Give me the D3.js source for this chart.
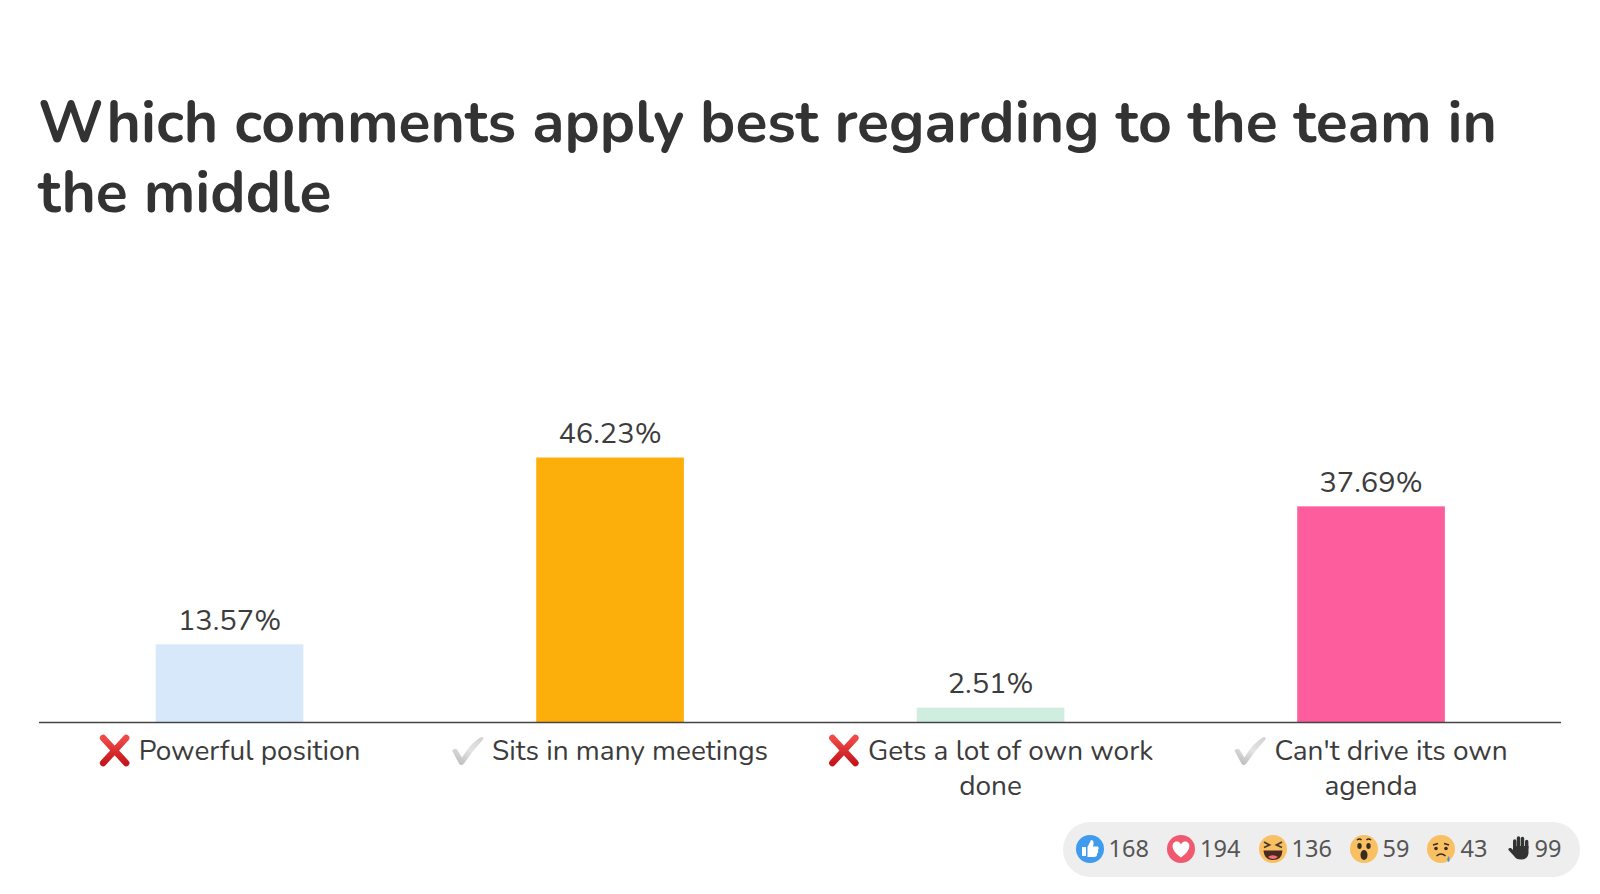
<!DOCTYPE html>
<html><head><meta charset="utf-8">
<script src="https://cdn.jsdelivr.net/npm/d3@7"></script>
<style>html,body{margin:0;padding:0;background:#fff}svg{display:block}</style>
</head><body><svg id="c" width="1600" height="894"></svg>
<script>
const titleLines = ["Which comments apply best regarding to the team in", "the middle"];
const categories = ["Powerful position", "Sits in many meetings", "Gets a lot of own work done", "Can't drive its own agenda"];
const categoryLines = [["Powerful position"], ["Sits in many meetings"], ["Gets a lot of own work", "done"], ["Can't drive its own", "agenda"]];
const marks = ["cross", "check", "cross", "check"];
const values = [13.57, 46.23, 2.51, 37.69];
const valueLabels = ["13.57%", "46.23%", "2.51%", "37.69%"];
const barColors = ["#d6e8f9", "#fcaf0b", "#d0eedf", "#fd5c9d"];
const reactionKinds = ["like", "love", "haha", "wow", "sad", "hand"];
const reactionCounts = [168, 194, 136, 59, 43, 99];

const FONT = "Nunito, Lato, 'Noto Sans', sans-serif";
const svg = d3.select("#c");
const x = d3.scaleBand().domain(categories).range([39.3, 1561.3]).paddingInner(0.612).paddingOuter(0.306);
const y = d3.scaleLinear().domain([0, 46.23]).range([722, 457.5]);

const defs = svg.append("defs");
const rg = defs.append("linearGradient").attr("id","redG").attr("x1",0).attr("y1",0).attr("x2",0).attr("y2",1);
rg.append("stop").attr("offset",0).attr("stop-color","#f04a48");
rg.append("stop").attr("offset",1).attr("stop-color","#c5161c");
const gg = defs.append("linearGradient").attr("id","greyG").attr("x1",0.2).attr("y1",1).attr("x2",0.8).attr("y2",0);
gg.append("stop").attr("offset",0).attr("stop-color","#bcbcbc");
gg.append("stop").attr("offset",0.55).attr("stop-color","#e4e4e4");
gg.append("stop").attr("offset",1).attr("stop-color","#d4d4d4");

svg.append("g").selectAll("text").data(titleLines).join("text")
  .attr("x", 38).attr("y", (d,i)=>142+i*69.5)
  .attr("font-family", FONT).attr("font-weight", 700).attr("font-size", 58.9)
  .attr("fill", "#333333").text(d=>d);

svg.append("g").selectAll("rect").data(values).join("rect")
  .attr("x",(d,i)=>x(categories[i])).attr("width",x.bandwidth())
  .attr("y",d=>y(d)).attr("height",d=>y(0)-y(d))
  .attr("fill",(d,i)=>barColors[i]);

svg.append("g").selectAll("text").data(values).join("text")
  .attr("x",(d,i)=>x(categories[i])+x.bandwidth()/2)
  .attr("y",d=>y(d)-14.5)
  .attr("text-anchor","middle").attr("font-family",FONT).attr("font-size",29).attr("fill","#3c3c3c")
  .text((d,i)=>valueLabels[i]);

svg.append("line").attr("x1",39).attr("x2",1561).attr("y1",722.5).attr("y2",722.5).attr("stroke","#444").attr("stroke-width",1.3);

function drawMark(g, kind){
  if(kind==="cross"){
    g.append("path").attr("d","M-11.5,-12.5 L11.5,12.5 M11.5,-12.5 L-11.5,12.5").attr("stroke","url(#redG)")
      .attr("stroke-width",6.5).attr("stroke-linecap","round").attr("fill","none");
  } else {
    g.append("path").attr("d","M-17,0 Q-14,-3 -12,-1 L-7,7 Q2,-8 12,-13.5 Q15,-13.5 14,-11 Q3,1 -5,13 Q-8,16 -10,13 Z").attr("fill","url(#greyG)");
  }
}
const labelG = svg.append("g").selectAll("g").data(categories).join("g");
labelG.each(function(d,i){
  const cx = x(d)+x.bandwidth()/2, g = d3.select(this);
  const lines = categoryLines[i];
  const iconW = 40;
  const t1 = g.append("text").attr("x",0).attr("y",760).attr("font-family",FONT).attr("font-size",28).attr("fill","#3c3c3c").text(lines[0]);
  const w = t1.node().getComputedTextLength();
  const start = cx-(w+iconW)/2;
  t1.attr("x",start+iconW);
  drawMark(g.append("g").attr("transform",`translate(${start+ (marks[i]==="cross"?16:17)},750.5)`), marks[i]);
  if(lines[1]) g.append("text").attr("x",cx).attr("y",795).attr("text-anchor","middle").attr("font-family",FONT).attr("font-size",28).attr("fill","#3c3c3c").text(lines[1]);
});

svg.append("rect").attr("x",1063).attr("y",822).attr("width",517).attr("height",55).attr("rx",27.5).attr("fill","#eeeeee");
const iconX = [1090,1181,1273,1364,1441,1519], textX=[1108.5,1200,1291.5,1382.5,1460.5,1534.5];
const faceY = 849;
function drawReaction(g,k){
  if(k==="like"){
    g.append("circle").attr("r",14).attr("fill","#3f9bee");
    g.append("path").attr("fill","#fff").attr("d","M-8,-2 h4 v9 h-4 Z M-2.5,-2 L1,-9 Q4,-9 3.5,-5 L3,-2.5 H8 Q9.5,-1 8,1 Q9,3 7,5 Q7.5,7.5 4,8 H-2.5 Z");
  } else if(k==="love"){
    g.append("circle").attr("r",14).attr("fill","#f0596f");
    g.append("path").attr("fill","#fff").attr("d","M0,8.5 C-13,-1 -8,-8 -4,-7.5 C-2,-7.5 -0.5,-6 0,-4.5 C0.5,-6 2,-7.5 4,-7.5 C8,-8 13,-1 0,8.5 Z");
  } else {
    g.append("circle").attr("r",14).attr("fill","#f8c063");
    if(k==="haha"){
      g.append("path").attr("fill","none").attr("stroke","#4a3a2a").attr("stroke-width",1.8).attr("d","M-9,-7 L-3.5,-4 L-9,-1.5 M9,-7 L3.5,-4 L9,-1.5");
      g.append("path").attr("fill","#4a2a20").attr("d","M-9.5,1.5 H9.5 Q9,11 0,11 Q-9,11 -9.5,1.5 Z");
      g.append("path").attr("fill","#ef6f7b").attr("d","M-5,8 Q0,4.5 5,8 Q0,12 -5,8 Z");
    } else if(k==="wow"){
      g.append("ellipse").attr("cx",-4.5).attr("cy",-3).attr("rx",2.2).attr("ry",3).attr("fill","#3a2a20");
      g.append("ellipse").attr("cx",4.5).attr("cy",-3).attr("rx",2.2).attr("ry",3).attr("fill","#3a2a20");
      g.append("ellipse").attr("cx",0).attr("cy",6).attr("rx",3.5).attr("ry",5).attr("fill","#3a2a20");
      g.append("path").attr("fill","none").attr("stroke","#3a2a20").attr("stroke-width",1.4).attr("d","M-7,-9 Q-4.5,-11 -2.5,-9 M2.5,-9 Q4.5,-11 7,-9");
    } else {
      g.append("circle").attr("cx",-5).attr("cy",-0.5).attr("r",1.8).attr("fill","#3a2a20");
      g.append("circle").attr("cx",5).attr("cy",-0.5).attr("r",1.8).attr("fill","#3a2a20");
      g.append("path").attr("fill","none").attr("stroke","#3a2a20").attr("stroke-width",1.5).attr("d","M-4.5,7 Q0,3 4.5,7 M-8,-4 L-3,-5.5 M8,-4 L3,-5.5");
      g.append("path").attr("fill","#4a90d9").attr("d","M7.5,7 Q10,11 7.5,13 Q5,11 7.5,7 Z");
    }
  }
}
const rG = svg.append("g").selectAll("g").data(reactionCounts).join("g");
rG.each(function(d,i){
  const g = d3.select(this), k = reactionKinds[i];
  if(k==="hand"){
    const h = g.append("g").attr("transform",`translate(${iconX[i]},${faceY-1})`);
    h.append("path").attr("fill","#333").attr("d","M-6,-2 H9.5 V5 Q9,11.5 2,11.5 Q-3,11.5 -5,8 L-10.5,2 Q-11,-0.5 -8,0 L-6,2 Z");
    h.append("path").attr("stroke","#333").attr("stroke-width",3.4).attr("stroke-linecap","round").attr("fill","none")
      .attr("d","M-4.3,0 V-7 M-0.5,0 V-10 M3.5,0 V-9.5 M7.7,0 V-6.5");
  } else {
    drawReaction(g.append("g").attr("transform",`translate(${iconX[i]},${faceY})`),k);
  }
  g.append("text").attr("x",textX[i]).attr("y",857).attr("font-family","'Noto Sans',sans-serif").attr("font-size",23.5).attr("fill","#555").text(d);
});
</script></body></html>
